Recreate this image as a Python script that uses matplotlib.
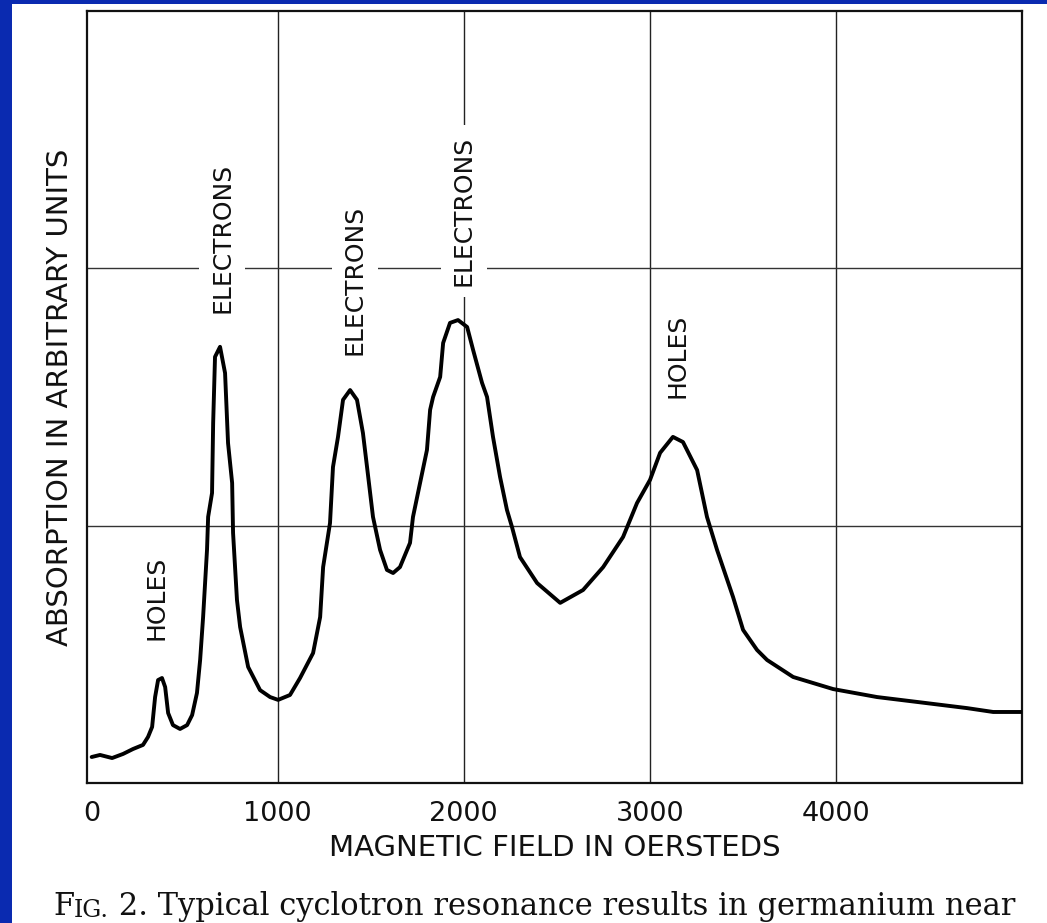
import matplotlib
matplotlib.use("Agg")
import matplotlib.pyplot as plt
from matplotlib.patches import Rectangle

# magnetic field (oersteds) and absorption (arbitrary units)
field = [0, 45, 110, 169, 222, 276, 303, 325, 341, 357, 378, 395, 411, 437, 475,
         513, 540, 566, 583, 599, 620, 626, 647, 653, 663, 690, 717, 733, 755, 760,
         781, 798, 841, 905, 959, 1002, 1066, 1120, 1190, 1228, 1244, 1281, 1297,
         1324, 1351, 1389, 1426, 1458, 1480, 1512, 1550, 1587, 1620, 1657, 1711,
         1727, 1765, 1802, 1819, 1835, 1873, 1889, 1926, 1969, 2018, 2050, 2098,
         2125, 2157, 2195, 2232, 2259, 2302, 2394, 2518, 2641, 2749, 2856, 2931,
         3001, 3055, 3124, 3178, 3254, 3307, 3361, 3447, 3501, 3576, 3630, 3770,
         3985, 4221, 4436, 4705, 4845, 5000]
absorption = [0.101, 0.109, 0.097, 0.113, 0.132, 0.148, 0.179, 0.218, 0.334, 0.400,
              0.408, 0.373, 0.272, 0.225, 0.210, 0.225, 0.264, 0.350, 0.478, 0.645,
              0.906, 1.034, 1.127, 1.399, 1.656, 1.695, 1.593, 1.321, 1.166, 0.972,
              0.711, 0.606, 0.451, 0.361, 0.334, 0.323, 0.342, 0.408, 0.505, 0.645,
              0.839, 1.010, 1.228, 1.345, 1.489, 1.527, 1.489, 1.360, 1.228, 1.034,
              0.906, 0.828, 0.816, 0.839, 0.933, 1.034, 1.166, 1.294, 1.450, 1.500,
              1.578, 1.710, 1.788, 1.799, 1.772, 1.683, 1.555, 1.500, 1.345, 1.189,
              1.061, 0.995, 0.878, 0.777, 0.700, 0.750, 0.839, 0.956, 1.088, 1.178,
              1.283, 1.345, 1.325, 1.216, 1.034, 0.906, 0.723, 0.595, 0.517, 0.478,
              0.412, 0.365, 0.334, 0.315, 0.291, 0.276, 0.276]

peak_labels = ["HOLES", "ELECTRONS", "ELECTRONS", "ELECTRONS", "HOLES"]
label_x = [351, 701, 1415, 2000, 3146]
label_y = [0.719, 2.118, 1.955, 2.223, 1.66]

xtick_vals = [0, 1000, 2000, 3000, 4000]
grid_x = [1000, 2000, 3000, 4000]
grid_y = [1, 2]

W, H = 1047, 923
fig = plt.figure(figsize=(W / 100, H / 100), dpi=100)
fig.patch.set_facecolor("#0a2ab0")
fig.add_artist(Rectangle((12 / W, 0), 1 - 12 / W, 1 - 4 / H, transform=fig.transFigure,
                         facecolor="white", edgecolor="none", zorder=-1))

ax = fig.add_axes([87 / W, (H - 783) / H, (1022 - 87) / W, (783 - 11) / H])
ax.set_xlim(-25, 5000)
ax.set_ylim(0, 3)

for gx in grid_x:
    ax.axvline(gx, color="#222222", lw=1.0, zorder=1)
for gy in grid_y:
    ax.axhline(gy, color="#333333", lw=1.0, zorder=1)

ax.plot(field, absorption, color="black", lw=2.8, solid_joinstyle="round",
        solid_capstyle="round", zorder=3)

for txt, lx, ly in zip(peak_labels, label_x, label_y):
    ax.text(lx, ly, txt, rotation=90, ha="center", va="center", fontsize=18,
            color="#111111", zorder=4,
            bbox=dict(boxstyle="square,pad=0.45", facecolor="white", edgecolor="none"))

for s in ax.spines.values():
    s.set_linewidth(1.6)
    s.set_color("#111111")

ax.set_xticks(xtick_vals)
ax.set_xticklabels([str(v) for v in xtick_vals])
ax.set_yticks([])
ax.tick_params(axis="x", length=0, pad=13, labelsize=19.5, labelcolor="#111111")

ax.set_xlabel("MAGNETIC FIELD IN OERSTEDS", fontsize=21, color="#111111", labelpad=5)
ax.set_ylabel("ABSORPTION IN ARBITRARY UNITS", fontsize=21, color="#111111", labelpad=9)

# caption with small-caps "Fig."
t1 = fig.text(53 / W, (H - 922) / H, "F", fontsize=22, family="DejaVu Serif",
              va="bottom", color="#111111")
t2 = ax.annotate("IG.", xy=(1, 0), xycoords=t1, fontsize=17, family="DejaVu Serif",
                 va="bottom", color="#111111", annotation_clip=False)
ax.annotate(" 2. Typical cyclotron resonance results in germanium near", xy=(1, 0),
            xycoords=t2, fontsize=22, family="DejaVu Serif", va="bottom",
            color="#111111", annotation_clip=False)

fig.savefig("out.png", dpi=100, facecolor=fig.get_facecolor())
